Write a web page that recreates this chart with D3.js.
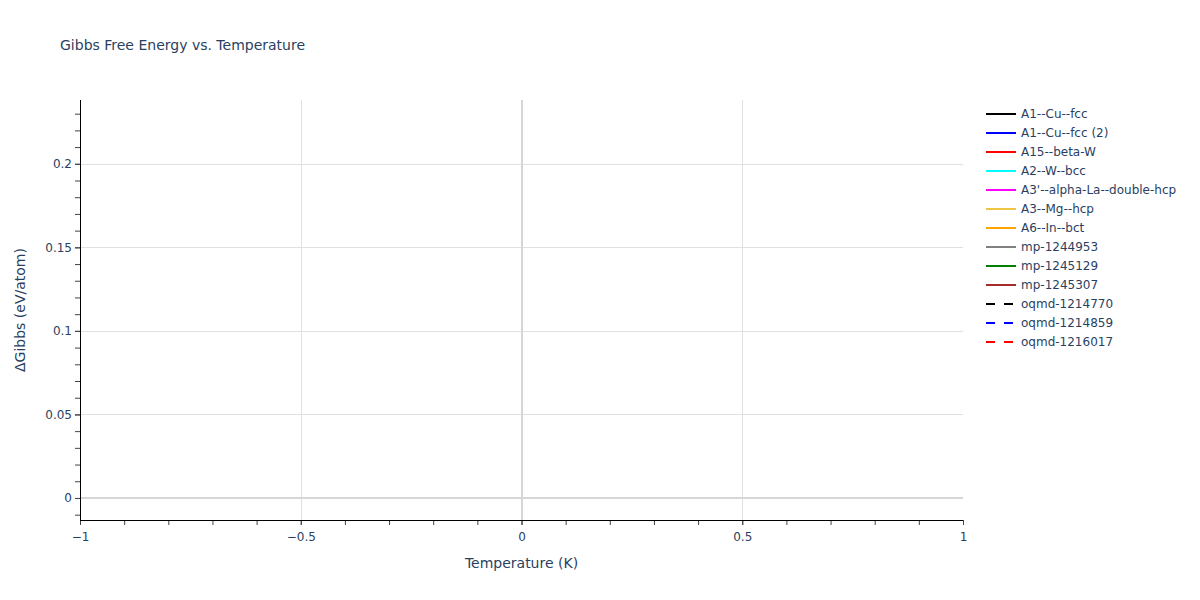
<!DOCTYPE html>
<html>
<head>
<meta charset="utf-8">
<script src="https://cdn.jsdelivr.net/npm/d3@7"></script>
<style>
  body { margin: 0; background: #fff; }
  text { font-family: "DejaVu Sans", verdana, arial, sans-serif; fill: #2a3f5f; }
</style>
</head>
<body>
<div class="app"></div>
<script>
// series names, colours and dash styles, in legend order
var seriesNames = ["A1--Cu--fcc", "A1--Cu--fcc (2)", "A15--beta-W", "A2--W--bcc",
  "A3'--alpha-La--double-hcp", "A3--Mg--hcp", "A6--In--bct", "mp-1244953",
  "mp-1245129", "mp-1245307", "oqmd-1214770", "oqmd-1214859", "oqmd-1216017"];
var seriesColors = ["black", "blue", "red", "cyan", "magenta", "#efc545", "orange",
  "gray", "green", "brown", "black", "blue", "red"];
var seriesDashed = [false, false, false, false, false, false, false, false, false, false,
  true, true, true];

// each structure only has a value at T = 0 K (single points, so no line is visible)
var temperatures = [[0], [0], [0], [0], [0], [0], [0], [0], [0], [0], [0], [0], [0]];
var gibbsValues = [[0], [0], [0.034], [0.012], [0.018], [0.006], [0.058], [0.225],
  [0.11], [0.095], [0], [0.006], [0.035]];

var xTicks = [-1, -0.5, 0, 0.5, 1];
var yTicks = [0, 0.05, 0.1, 0.15, 0.2];

var W = 1200, H = 600;
var margin = {top: 100, right: 237, bottom: 80, left: 80},
    width = W - margin.left - margin.right,
    height = H - margin.top - margin.bottom;

var svg = d3.select(".app").append("svg")
    .attr("width", W)
    .attr("height", H);

var g = svg.append("g")
    .attr("transform", "translate(" + margin.left + "," + margin.top + ")");

// x autorange: all points at 0 -> +-1 around it
var allT = d3.merge(temperatures), allG = d3.merge(gibbsValues);
var tExt = d3.extent(allT);
var x = d3.scaleLinear().domain([tExt[0] - 1, tExt[1] + 1]).range([0, width]);
var gExt = d3.extent(allG);
var pad = (gExt[1] - gExt[0]) * 0.0586;
var y = d3.scaleLinear().domain([gExt[0] - pad, gExt[1] + pad]).range([height, 0]);

// grid
g.append("g").selectAll("line").data(yTicks.filter(function(d) { return d !== 0; }))
  .enter().append("line")
    .attr("x1", 0).attr("x2", width)
    .attr("y1", function(d) { return Math.round(y(d)) + 0.5; })
    .attr("y2", function(d) { return Math.round(y(d)) + 0.5; })
    .attr("stroke", "#e0e0e0").attr("stroke-width", 1);
g.append("g").selectAll("line").data(xTicks.filter(function(d) { return d !== 0 && d > -1 && d < 1; }))
  .enter().append("line")
    .attr("y1", 0).attr("y2", height)
    .attr("x1", function(d) { return Math.round(x(d)) + 0.5; })
    .attr("x2", function(d) { return Math.round(x(d)) + 0.5; })
    .attr("stroke", "#e0e0e0").attr("stroke-width", 1);

// zero lines
g.append("line")
    .attr("x1", 0).attr("x2", width)
    .attr("y1", Math.round(y(0))).attr("y2", Math.round(y(0)))
    .attr("stroke", "#d6d6d6").attr("stroke-width", 2);
g.append("line")
    .attr("y1", 0).attr("y2", height)
    .attr("x1", Math.round(x(0))).attr("x2", Math.round(x(0)))
    .attr("stroke", "#d6d6d6").attr("stroke-width", 2);

// the traces
var line = d3.line()
    .x(function(d) { return x(d[0]); })
    .y(function(d) { return y(d[1]); });
seriesNames.forEach(function(name, i) {
  var pts = d3.zip(temperatures[i], gibbsValues[i]);
  g.append("path")
    .datum(pts)
    .attr("fill", "none")
    .attr("stroke", seriesColors[i])
    .attr("stroke-width", 2)
    .attr("stroke-dasharray", seriesDashed[i] ? "9,9" : null)
    .attr("d", line);
});

// axes (minor ticks in their own groups)
var gxMinor = g.append("g").attr("transform", "translate(0," + height + ")")
    .call(d3.axisBottom(x).tickValues(d3.range(-0.9, 1, 0.1)).tickSize(5).tickFormat(""));
var gx = g.append("g").attr("transform", "translate(0," + height + ")")
    .call(d3.axisBottom(x).tickValues(xTicks).tickSize(5)
      .tickFormat(function(d) { return d3.format("")(d).replace("-", "\u2212"); }));
gx.selectAll("text").attr("font-size", 12).attr("fill", "#2a3f5f").attr("dy", "1.1em");

var gyMinor = g.append("g")
    .call(d3.axisLeft(y).tickValues(d3.range(-0.01, 0.235, 0.01)).tickSize(5).tickFormat(""));
var gy = g.append("g")
    .call(d3.axisLeft(y).tickValues(yTicks).tickSize(5).tickFormat(d3.format("")));
gy.selectAll("text").attr("font-size", 12).attr("fill", "#2a3f5f").attr("x", -8);

svg.selectAll(".domain").remove();
svg.selectAll(".tick line").attr("stroke", "#444");
g.append("line").attr("x1", 0).attr("x2", width).attr("y1", height + 0.5).attr("y2", height + 0.5)
    .attr("stroke", "#000");
g.append("line").attr("x1", 0.5).attr("x2", 0.5).attr("y1", 0).attr("y2", height)
    .attr("stroke", "#000");

// titles
svg.append("text")
    .attr("x", 60).attr("y", 50)
    .attr("font-size", 14)
    .text("Gibbs Free Energy vs. Temperature");

svg.append("text")
    .attr("text-anchor", "middle")
    .attr("x", margin.left + width / 2).attr("y", 568)
    .attr("font-size", 14)
    .text("Temperature (K)");

svg.append("text")
    .attr("text-anchor", "middle")
    .attr("transform", "translate(25," + (margin.top + height / 2) + ")rotate(-90)")
    .attr("font-size", 14)
    .text("\u0394Gibbs (eV/atom)");

// legend
var legend = svg.append("g").attr("transform", "translate(986,114)");
var rows = legend.selectAll("g").data(seriesNames).enter().append("g")
    .attr("transform", function(d, i) { return "translate(0," + (i * 19) + ")"; });
rows.append("line")
    .attr("x1", 0).attr("x2", 30).attr("y1", 0).attr("y2", 0)
    .attr("stroke", function(d, i) { return seriesColors[i]; })
    .attr("stroke-width", 2)
    .attr("stroke-dasharray", function(d, i) { return seriesDashed[i] ? "9,9" : null; });
rows.append("text")
    .attr("x", 35).attr("y", 0).attr("dy", "0.35em")
    .attr("font-size", 12)
    .text(function(d) { return d; });
</script>
</body>
</html>
